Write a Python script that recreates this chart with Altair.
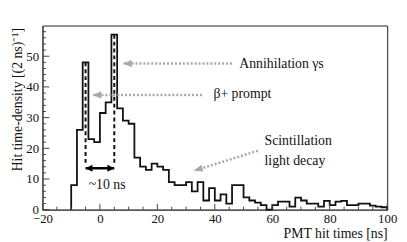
import altair as alt
import pandas as pd

# ---------------- data ----------------
bin_start = -10
bin_width = 2
hit_density = [8, 26, 48, 23, 22, 31.5, 35, 57, 33, 29,
               28, 17, 14, 13, 15, 14, 13, 9, 8, 8,
               9, 6, 9, 3, 7, 3, 5, 2, 8, 8,
               4, 3, 2.3, 1.5, 0, 1.5, 2.6, 2.6, 1, 3.9,
               3, 2, 2, 1, 2.9, 1.5, 2.6, 2.9, 1.5, 1.5,
               2, 2, 1.3, 1, 0.8]

x_ticks = [-20, 0, 20, 40, 60, 80, 100]
y_ticks = [0, 10, 20, 30, 40, 50]
x_minor = [v for v in range(-20, 101, 5) if v % 20 != 0]
y_minor = [v for v in range(0, 60, 2) if v % 10 != 0]

# peaks marked with dashed lines (bin centres)
peak_t = [-5, 5]
peak_top = [48, 57]
peak_bottom = 15
span_y = 13.5
span_label = "~10 ns"
span_label_pos = (2.5, 8)

# grey dotted arrows: tail (t, v) -> tip (t, v), label position, angle
arrow_tail_t = [46, 35.5, 55]
arrow_tail_v = [47.6, 37.4, 19.2]
arrow_tip_t = [8, -2.6, 32.7]
arrow_tip_v = [47.6, 37.4, 12.7]
arrow_angle = [0, 0, 343]
labels_text = ["Annihilation γs", "β+ prompt", "Scintillation", "light decay"]
labels_t = [48.5, 39.5, 57.3, 57.3]
labels_v = [47.6, 37.8, 22.4, 16.0]

SERIF = "Liberation Serif"

# ---------------- tables ----------------
edges = [bin_start + bin_width * i for i in range(len(hit_density))]
step_x = [bin_start] + edges + [bin_start + bin_width * len(hit_density)]
step_y = [0] + hit_density + [0]
hist_df = pd.DataFrame({"t": step_x, "v": step_y, "o": range(len(step_x))})

x_axis = alt.Axis(values=x_ticks, title="PMT hit times [ns]", titleAnchor="end",
                  labelPadding=3, titlePadding=1, labelFlush=False, labelOverlap=False)
y_axis = alt.Axis(values=y_ticks, title="Hit time-density [(2 ns)⁻¹]",
                  titleX=-25, titleY=2, titleAngle=270, titleAlign="right",
                  titleBaseline="middle",
                  labelPadding=4, labelOverlap=False, labelFlush=False)
x_scale = alt.Scale(domain=[-20, 100], nice=False, zero=False)
y_scale = alt.Scale(domain=[0, 60], nice=False)


def X(field):
    return alt.X(field, scale=x_scale, axis=x_axis)


def Y(field):
    return alt.Y(field, scale=y_scale, axis=y_axis)


hist = alt.Chart(hist_df).mark_line(interpolate="step-after", color="#111111",
                                    strokeWidth=1.8).encode(x=X("t:Q"), y=Y("v:Q"), order="o:Q")

# ticks drawn inside the frame
ytick_df = pd.DataFrame({"v": y_ticks})
yminor_df = pd.DataFrame({"v": y_minor})
xtick_df = pd.DataFrame({"t": x_ticks})
xminor_df = pd.DataFrame({"t": x_minor})
tick_col = "#444444"
ymaj = alt.Chart(ytick_df).mark_rule(color=tick_col, strokeWidth=1).encode(
    y=Y("v:Q"), x=alt.value(0), x2=alt.value(7))
ymin = alt.Chart(yminor_df).mark_rule(color=tick_col, strokeWidth=1).encode(
    y=Y("v:Q"), x=alt.value(0), x2=alt.value(3.5))
xmaj = alt.Chart(xtick_df).mark_rule(color=tick_col, strokeWidth=1).encode(
    x=X("t:Q"), y=alt.value(187), y2=alt.value(181))
xmin = alt.Chart(xminor_df).mark_rule(color=tick_col, strokeWidth=1).encode(
    x=X("t:Q"), y=alt.value(187), y2=alt.value(184))

# dashed peak lines
peak_df = pd.DataFrame({"t": peak_t, "top": peak_top, "bot": [peak_bottom] * len(peak_t)})
dashed = alt.Chart(peak_df).mark_rule(color="#111111", strokeWidth=2, strokeDash=[4, 3]).encode(
    x=X("t:Q"), y=Y("top:Q"), y2="bot:Q")

# double arrow
span_df = pd.DataFrame({"t": [peak_t[0]], "t2": [peak_t[1]], "v": [span_y]})
span_line = alt.Chart(span_df).mark_rule(color="#000000", strokeWidth=2.5).encode(
    x=X("t:Q"), x2="t2:Q", y=Y("v:Q"))
heads_df = pd.DataFrame({"t": peak_t, "v": [span_y, span_y], "a": [0, 180]})
span_heads = alt.Chart(heads_df).mark_point(shape="M0,0L2,-1L2,1Z", filled=True, size=49,
                                            color="#000000", opacity=1).encode(
    x=X("t:Q"), y=Y("v:Q"), angle=alt.Angle("a:Q", scale=None))
span_text_df = pd.DataFrame({"t": [span_label_pos[0]], "v": [span_label_pos[1]], "s": [span_label]})
span_text = alt.Chart(span_text_df).mark_text(font=SERIF, fontSize=14,
                                              color="#111111").encode(
    x=X("t:Q"), y=Y("v:Q"), text="s:N")

# grey arrows
arr_df = pd.DataFrame({"t": arrow_tail_t, "v": arrow_tail_v, "t2": arrow_tip_t,
                       "v2": arrow_tip_v, "a": arrow_angle})
grey = "#a8a8a8"
arr_lines = alt.Chart(arr_df).mark_rule(color=grey, strokeWidth=2.5, strokeDash=[2, 2]).encode(
    x=X("t:Q"), y=Y("v:Q"), x2="t2:Q", y2="v2:Q")
arr_heads = alt.Chart(arr_df).mark_point(shape="M0,0L2,-0.8L2,0.8Z", filled=True, size=81,
                                         color=grey, opacity=1).encode(
    x=X("t2:Q"), y=Y("v2:Q"), angle=alt.Angle("a:Q", scale=None))
lab_df = pd.DataFrame({"t": labels_t, "v": labels_v, "s": labels_text})
labels = alt.Chart(lab_df).mark_text(font=SERIF, fontSize=14, align="left",
                                     color="#111111").encode(
    x=X("t:Q"), y=Y("v:Q"), text="s:N")

chart = alt.layer(hist, ymaj, ymin, xmaj, xmin, dashed, span_line, span_heads, span_text,
                  arr_lines, arr_heads, labels).properties(
    width=350, height=187,
    autosize=alt.AutoSizeParams(type="none"),
    padding={"left": 35, "top": 16, "right": 12, "bottom": 31},
).configure_view(stroke="#222222", strokeWidth=1).configure_axis(
    grid=False, ticks=False, domainColor="#555555", domainWidth=1.5,
    labelFont=SERIF, labelFontSize=13, labelColor="#111111",
    titleFont=SERIF, titleFontSize=14, titleFontWeight="normal", titleColor="#111111",
)

chart.save("out.html", embed_options={"renderer": "svg", "actions": False})
